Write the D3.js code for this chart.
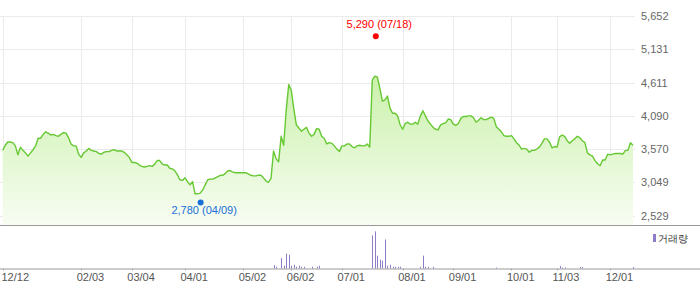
<!DOCTYPE html>
<html>
<head>
<meta charset="utf-8">
<script src="https://cdn.jsdelivr.net/npm/d3@7"></script>
<style>
  body { margin: 0; background: #fff; }
  text { font-family: "Liberation Sans", Arial, sans-serif; }
</style>
</head>
<body>
<div id="chart"></div>
<script>
// Daily closing prices, one per trading day (index 0 = 12/12)
const prices = [
  3550, 3630, 3680, 3680, 3670, 3620, 3480, 3600, 3550, 3510,
  3460, 3510, 3560, 3620, 3740, 3740, 3800, 3840, 3820, 3790,
  3800, 3780, 3770, 3800, 3830, 3820, 3750, 3650, 3620, 3620,
  3490, 3440, 3510, 3540, 3580, 3550, 3540, 3530, 3500, 3490,
  3520, 3530, 3530, 3550, 3560, 3540, 3540, 3540, 3520, 3480,
  3440, 3360, 3360, 3350, 3320, 3300, 3290, 3300, 3310, 3300,
  3330, 3390, 3390, 3340, 3320, 3320, 3270, 3260, 3230, 3170,
  3090, 3080, 3120, 3060, 3010, 3060, 2870, 2870, 2880, 2930,
  3010, 3090, 3100, 3100, 3120, 3140, 3160, 3160, 3190, 3230,
  3230, 3210, 3200, 3200, 3200, 3200, 3200, 3180, 3160, 3150,
  3150, 3160, 3160, 3120, 3070, 3050, 3110, 3540, 3420, 3370,
  3770, 3630, 4180, 4580, 4490, 4200, 3950, 3900, 3850, 3880,
  3910, 3820, 3770, 3800, 3890, 3880, 3770, 3740, 3650, 3670,
  3660, 3620, 3570, 3530, 3620, 3620, 3650, 3650, 3610, 3590,
  3620, 3630, 3620, 3620, 3650, 3600, 4650, 4710, 4700, 4520,
  4320, 4340, 4400, 4210, 4130, 4130, 4090, 3950, 3880, 3970,
  3990, 3960, 3960, 3990, 3960, 4090, 4170, 4090, 4010, 3960,
  3910, 3880, 3870, 3950, 3970, 3980, 4040, 4030, 3960, 3940,
  3970, 4050, 4080, 4080, 4090, 4090, 4060, 3990, 4020, 4060,
  4030, 4030, 4050, 4070, 4050, 3920, 3880, 3840, 3780, 3770,
  3770, 3780, 3730, 3670, 3630, 3570, 3580, 3570, 3520, 3550,
  3550, 3570, 3600, 3660, 3730, 3730, 3680, 3590, 3610, 3600,
  3760, 3790, 3770, 3700, 3660, 3700, 3730, 3770, 3750, 3700,
  3670, 3510, 3480, 3460, 3390, 3340, 3310, 3400, 3400, 3490,
  3480, 3490, 3500, 3500, 3500, 3490, 3550, 3550, 3670, 3630
];

// Traded volume (thousand shares) on the days that show a bar
const volumeDays = [107, 108, 110, 111, 112, 113, 114, 115, 116, 117, 118, 119, 122, 124, 125,
  146, 147, 148, 149, 150, 151, 152, 153, 154, 155, 156, 157,
  165, 166, 167, 168, 170, 195, 220, 221, 222, 228, 229, 249];
const volumes = [33, 17, 103, 27, 147, 137, 27, 37, 17, 27, 17, 17, 17, 17, 27,
  327, 367, 127, 87, 77, 287, 27, 37, 17, 17, 17, 17,
  17, 127, 17, 17, 17, 10, 25, 10, 10, 15, 15, 15];

// Date axis labels and the trading-day index they sit on
const dateLabels = ["12/12", "02/03", "03/04", "04/01", "05/02", "06/02", "07/01", "08/01", "09/01", "10/01", "11/03", "12/01"];
const dateIndex = [0, 31, 51, 72, 95, 114, 134, 158, 178, 201, 219, 240];

// Price axis labels
const priceTicks = [2529, 3049, 3570, 4090, 4611, 5131, 5652];

// Period high / low
const highPoint = { index: 147, value: 5290, label: "5,290 (07/18)" };
const lowPoint = { index: 78, value: 2780, label: "2,780 (04/09)" };

const width = 700;
const height = 289;
const plotLeft = 2.7;
const plotRight = 633;
const priceTop = 16;
const priceBottom = 225;
const volTop = 226;
const volBottom = 268.5;

const x = d3.scaleLinear()
  .domain([0, prices.length - 1])
  .range([plotLeft, plotRight]);

const y = d3.scaleLinear()
  .domain([2529, 5652])
  .range([215.6, priceTop]);

const yVol = d3.scaleLinear()
  .domain([0, 420])
  .range([volBottom, volTop]);

const svg = d3.select("#chart")
  .append("svg")
  .attr("width", width)
  .attr("height", height)
  .attr("viewBox", [0, 0, width, height]);

// Gradient for the price area
const grad = svg.append("defs").append("linearGradient")
  .attr("id", "fillGrad")
  .attr("gradientUnits", "userSpaceOnUse")
  .attr("x1", 0).attr("y1", priceTop)
  .attr("x2", 0).attr("y2", priceBottom);
grad.append("stop").attr("offset", "0%").attr("stop-color", "#b8ec8e");
grad.append("stop").attr("offset", "100%").attr("stop-color", "#f8fdf3");

// Grid lines
svg.append("g")
  .selectAll("line")
  .data(priceTicks)
  .join("line")
  .attr("x1", 0)
  .attr("x2", plotRight + 2)
  .attr("y1", d => Math.round(y(d)) + 0.5)
  .attr("y2", d => Math.round(y(d)) + 0.5)
  .attr("stroke", "#ebebeb");

svg.append("g")
  .selectAll("line")
  .data(dateIndex)
  .join("line")
  .attr("x1", d => Math.round(x(d)) + 0.5)
  .attr("x2", d => Math.round(x(d)) + 0.5)
  .attr("y1", priceTop)
  .attr("y2", priceBottom)
  .attr("stroke", "#ebebeb");

// Price area and line
svg.append("path")
  .datum(prices)
  .attr("fill", "url(#fillGrad)")
  .attr("d", d3.area().x((d, i) => x(i)).y0(priceBottom).y1(d => y(d)));

svg.append("path")
  .datum(prices)
  .attr("fill", "none")
  .attr("stroke", "#66c832")
  .attr("stroke-width", 1.4)
  .attr("stroke-linejoin", "round")
  .attr("d", d3.line().x((d, i) => x(i)).y(d => y(d)));

// Panel borders
svg.append("line")
  .attr("x1", 0).attr("x2", width)
  .attr("y1", priceBottom + 0.5).attr("y2", priceBottom + 0.5)
  .attr("stroke", "#999");

// Volume bars
svg.append("g")
  .selectAll("rect")
  .data(volumes)
  .join("rect")
  .attr("x", (d, i) => Math.round(x(volumeDays[i])))
  .attr("y", d => yVol(d))
  .attr("width", 1)
  .attr("height", d => volBottom - yVol(d))
  .attr("fill", "#8f7cc8");

svg.append("line")
  .attr("x1", 0).attr("x2", width)
  .attr("y1", volBottom + 0.5).attr("y2", volBottom + 0.5)
  .attr("stroke", "#999");

// Small ticks under the volume panel
svg.append("g")
  .selectAll("line")
  .data(dateIndex)
  .join("line")
  .attr("x1", d => Math.round(x(d)) + 0.5)
  .attr("x2", d => Math.round(x(d)) + 0.5)
  .attr("y1", volBottom)
  .attr("y2", volBottom + 2)
  .attr("stroke", "#aaa");

// Date labels
svg.append("g")
  .selectAll("text")
  .data(dateLabels)
  .join("text")
  .attr("x", (d, i) => Math.max(1.5, x(dateIndex[i]) - 4.5))
  .attr("y", 281)
  .attr("font-size", 11)
  .attr("fill", "#555")
  .text(d => d);

// Price labels
svg.append("g")
  .selectAll("text")
  .data(priceTicks)
  .join("text")
  .attr("x", 641)
  .attr("y", d => y(d) + 4)
  .attr("font-size", 11)
  .attr("fill", "#666")
  .text(d => d3.format(",")(d));

// High / low markers
svg.append("circle")
  .attr("cx", x(highPoint.index) + 1)
  .attr("cy", y(highPoint.value) - 3)
  .attr("r", 3)
  .attr("fill", "#ff0000");
svg.append("text")
  .attr("x", x(highPoint.index) + 4.5)
  .attr("y", y(highPoint.value) - 11)
  .attr("text-anchor", "middle")
  .attr("font-size", 11)
  .attr("fill", "#ff0000")
  .text(highPoint.label);

svg.append("circle")
  .attr("cx", x(lowPoint.index) + 0.5)
  .attr("cy", y(lowPoint.value) + 3)
  .attr("r", 3)
  .attr("fill", "#1a6fd9");
svg.append("text")
  .attr("x", x(lowPoint.index) + 4)
  .attr("y", y(lowPoint.value) + 14.5)
  .attr("text-anchor", "middle")
  .attr("font-size", 11)
  .attr("fill", "#1a6fd9")
  .text(lowPoint.label);

// Legend
svg.append("rect")
  .attr("x", 653).attr("y", 234)
  .attr("width", 3).attr("height", 8)
  .attr("fill", "#8f7cc8");
svg.append("text")
  .attr("x", 658).attr("y", 242)
  .attr("font-size", 10)
  .attr("font-family", "'Noto Sans CJK KR', sans-serif")
  .attr("fill", "#333")
  .text("거래량");
</script>
</body>
</html>
